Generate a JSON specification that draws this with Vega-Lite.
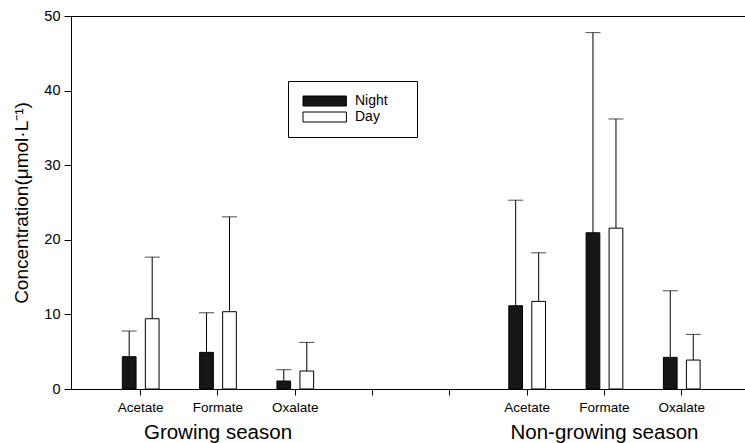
{
  "$schema": "https://vega.github.io/schema/vega-lite/v6.json",
  "width": 674,
  "height": 373,
  "autosize": "none",
  "padding": {"left": 71, "top": 16, "right": 0, "bottom": 54},
  "config": {
    "view": {"stroke": null},
    "font": "Liberation Sans",
    "axis": {"domainColor": "#000", "tickColor": "#000", "labelColor": "#000", "titleColor": "#000", "grid": false, "domainWidth": 1, "tickWidth": 1}
  },
  "data": {
    "values": [
      {"pos": "G-Acetate", "period": "Night", "mean": 4.33, "upper": 7.77},
      {"pos": "G-Acetate", "period": "Day", "mean": 9.42, "upper": 17.68},
      {"pos": "G-Formate", "period": "Night", "mean": 4.91, "upper": 10.22},
      {"pos": "G-Formate", "period": "Day", "mean": 10.36, "upper": 23.08},
      {"pos": "G-Oxalate", "period": "Night", "mean": 1.07, "upper": 2.59},
      {"pos": "G-Oxalate", "period": "Day", "mean": 2.41, "upper": 6.25},
      {"pos": "N-Acetate", "period": "Night", "mean": 11.16, "upper": 25.31},
      {"pos": "N-Acetate", "period": "Day", "mean": 11.74, "upper": 18.26},
      {"pos": "N-Formate", "period": "Night", "mean": 20.94, "upper": 47.77},
      {"pos": "N-Formate", "period": "Day", "mean": 21.56, "upper": 36.2},
      {"pos": "N-Oxalate", "period": "Night", "mean": 4.24, "upper": 13.17},
      {"pos": "N-Oxalate", "period": "Day", "mean": 3.88, "upper": 7.32}
    ]
  },
  "resolve": {"axis": {"x": "independent"}},
  "layer": [
    {
      "mark": {"type": "bar", "stroke": "#000", "strokeWidth": 1},
      "encoding": {
        "x": {
          "field": "pos", "type": "nominal",
          "scale": {"domain": ["G-Acetate", "G-Formate", "G-Oxalate", "gap1", "gap2", "N-Acetate", "N-Formate", "N-Oxalate"], "paddingInner": 0, "paddingOuter": 0.36, "align": 0.558},
          "axis": {"orient": "bottom", "title": null, "labelAngle": 0, "labelFontSize": 13.5, "tickSize": 6, "labelPadding": 5,
                   "labelExpr": "indexof(datum.value, '-') >= 0 ? split(datum.value, '-')[1] : ''"}
        },
        "xOffset": {"field": "period", "type": "nominal", "scale": {"domain": ["Night", "Day"], "paddingInner": 0.404, "paddingOuter": 0.882}},
        "y": {
          "field": "mean", "type": "quantitative",
          "scale": {"domain": [0, 50], "nice": false},
          "axis": {"values": [0, 10, 20, 30, 40, 50], "title": "Concentration(μmol·L⁻¹)", "titleFontSize": 19, "titleFontWeight": "normal", "labelFontSize": 14.5, "tickSize": 7, "labelPadding": 4, "titlePadding": 12}
        },
        "color": {
          "field": "period", "type": "nominal",
          "scale": {"domain": ["Night", "Day"], "range": ["#161616", "#ffffff"]},
          "legend": {
            "title": " ", "titleOrient": "right", "titlePadding": 16, "titleFontSize": 14,
            "orient": "none", "legendX": 217, "legendY": 65,
            "strokeColor": "#000", "padding": 13,
            "symbolType": "M-1,-1H7.68V1H-1Z", "symbolSize": 100, "symbolStrokeColor": "#000", "symbolStrokeWidth": 1,
            "labelFontSize": 14, "labelColor": "#000", "labelOffset": 40, "rowPadding": 2
          }
        }
      }
    },
    {
      "mark": {"type": "rule", "color": "#000", "strokeWidth": 1},
      "encoding": {
        "x": {
          "field": "pos", "type": "nominal",
          "axis": {"orient": "bottom", "title": null, "values": ["G-Formate", "N-Formate"], "labelAngle": 0,
                   "labelExpr": "datum.value == 'G-Formate' ? 'Growing season' : 'Non-growing season'",
                   "labelFontSize": 20.5, "labelLimit": 400, "ticks": false, "domain": false, "labelPadding": 33}
        },
        "xOffset": {"field": "period", "type": "nominal"},
        "y": {"field": "mean", "type": "quantitative"},
        "y2": {"field": "upper"}
      }
    },
    {
      "mark": {"type": "tick", "orient": "horizontal", "color": "#000", "thickness": 1, "size": 15},
      "encoding": {
        "x": {"field": "pos", "type": "nominal", "axis": null},
        "xOffset": {"field": "period", "type": "nominal"},
        "y": {"field": "upper", "type": "quantitative"}
      }
    },
    {
      "mark": {"type": "rule", "color": "#000", "strokeWidth": 1, "yOffset": 0.5},
      "encoding": {"y": {"datum": 50}}
    }
  ]
}
